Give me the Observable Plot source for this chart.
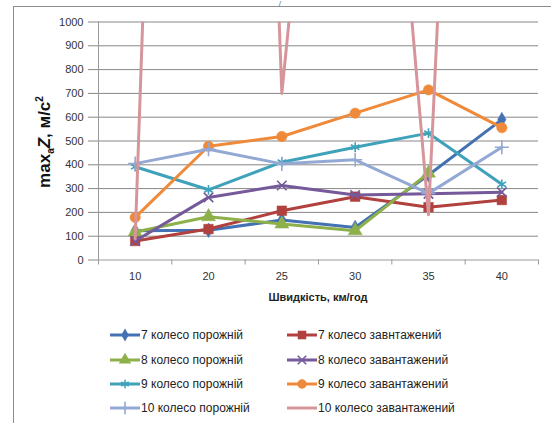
<!DOCTYPE html>
<html><head><meta charset="utf-8">
<script src="https://cdn.jsdelivr.net/npm/d3@7"></script>
<script src="https://cdn.jsdelivr.net/npm/@observablehq/plot@0.6"></script>
<style>
body{margin:0;background:#fff;font-family:"Liberation Sans",Arial,sans-serif;}
#wrap{position:relative;width:551px;height:423px;overflow:hidden;background:#fff}
#frame{position:absolute;left:13px;top:6px;width:600px;height:480px;border:1px solid #8c8c8c;box-sizing:border-box}
#chart{position:absolute;left:0;top:0}
#xtitle{position:absolute;top:291px;left:0;width:636px;text-align:center;font-weight:bold;font-size:11px;color:#222}
#ttl{position:absolute;left:279px;top:0px;font-size:7px;line-height:7px;color:#444}
.leg{position:absolute;display:flex;align-items:center;font-size:12px;color:#222;white-space:nowrap;height:16px}
.leg svg{display:block;margin-right:1px}
</style></head>
<body>
<div id="wrap">
  <div id="frame"></div>
  <div id="ttl">/</div>
  <div id="chart"></div>
  <div id="xtitle">Швидкість, км/год</div>
  <div id="legend"></div>
</div>
<script>
// ---- data ----
const categories = ["10", "20", "25", "30", "35", "40"];
const seriesNames = [
  "7 колесо порожній", "7 колесо завнтажений",
  "8 колесо порожній", "8 колесо завантажений",
  "9 колесо порожній", "9 колесо завантажений",
  "10 колесо порожній", "10 колесо завантажений"
];
const k7Empty   = [123, 125, 168, 137, 357, 590];
const k7Loaded  = [80, 130, 207, 266, 222, 252];
const k8Empty   = [118, 182, 151, 123, 365, null];
const k8Loaded  = [80, 263, 313, 273, 278, 285];
const k9Empty   = [392, 295, 411, 474, 533, 318];
const k9Loaded  = [179, 478, 519, 617, 715, 556];
const k10Empty  = [405, 465, 404, 421, 280, 474];
const k10Loaded = [88, 9000, 700, 3800, 190, 6800];
const yTicks = [0, 100, 200, 300, 400, 500, 600, 700, 800, 900, 1000];

// ---- styles ----
const seriesValues = [k7Empty, k7Loaded, k8Empty, k8Loaded, k9Empty, k9Loaded, k10Empty, k10Loaded];
const seriesColors = ["#4371B3", "#B0413E", "#8EB04B", "#75599A", "#3FA2BB", "#EF8A3A", "#93A9D4", "#D6959A"];
const seriesSymbols = ["diamond", "square", "triangle", "times", "asterisk", "circle", "plus", null];
const filledSymbols = new Set(["diamond", "square", "triangle", "circle"]);
const symbolR = {diamond: 4.4, square: 5.4, triangle: 5.2, times: 4.4, asterisk: 4.6, circle: 5.2, plus: 4.6};

const idx = d3.range(categories.length);
const boundaries = d3.range(categories.length + 1).map(i => i - 0.5);

const seriesMarks = [];
seriesValues.forEach((vals, s) => {
  const rows = vals.map((v, i) => ({i, v: v == null ? NaN : v}));
  seriesMarks.push(Plot.line(rows, {x: "i", y: "v", stroke: seriesColors[s], strokeWidth: 3,
    strokeLinejoin: "round", clip: true}));
  const sym = seriesSymbols[s];
  if (sym) {
    const pts = rows.filter(d => !isNaN(d.v));
    if (filledSymbols.has(sym)) {
      seriesMarks.push(Plot.dot(pts, {x: "i", y: "v", symbol: () => sym, r: symbolR[sym],
        fill: seriesColors[s], stroke: seriesColors[s], strokeWidth: 0.5}));
    } else {
      seriesMarks.push(Plot.dot(pts, {x: "i", y: "v", symbol: () => sym, r: symbolR[sym],
        stroke: seriesColors[s], strokeWidth: 1.6, fill: "none"}));
    }
  }
});

const chart = Plot.plot({
  width: 551,
  height: 310,
  marginLeft: 98,
  marginRight: 13,
  marginTop: 21.5,
  marginBottom: 50.5,
  style: {background: "transparent", color: "#333", fontFamily: "'Liberation Sans', Arial, sans-serif", fontSize: "11px"},
  x: {domain: [-0.5, categories.length - 0.5]},
  y: {domain: [0, 1000]},
  symbol: {type: "identity"},
  marks: [
    Plot.gridY(yTicks.filter(t => t > 0), {stroke: "#878787", strokeOpacity: 1, strokeWidth: 1}),
    Plot.ruleY([0], {stroke: "#9a9a9a"}),
    Plot.ruleX([-0.5], {stroke: "#9a9a9a"}),
    Plot.axisY(yTicks, {tickSize: 10, tickPadding: 5, stroke: "#878787", fontSize: 11, label: null,
      tickFormat: d => String(d)}),
    Plot.axisX(boundaries, {tickSize: 5, tickFormat: () => "", stroke: "#9a9a9a", label: null}),
    Plot.axisX(idx, {tickSize: 0, tickPadding: 12, tickFormat: i => categories[i], fontSize: 11, label: null}),
    ...seriesMarks
  ]
});
document.getElementById("chart").appendChild(chart);

// y-axis title with subscript / superscript
const svg = d3.select(chart);
const t = svg.append("text")
  .attr("transform", "translate(50,142) rotate(-90)")
  .attr("text-anchor", "middle")
  .attr("fill", "#111")
  .style("font-family", "'Liberation Sans', Arial, sans-serif")
  .style("font-weight", "bold")
  .style("font-size", "17px");
t.append("tspan").text("max");
t.append("tspan").attr("font-size", "10px").attr("dy", "4").text("a");
t.append("tspan").attr("dy", "-4").attr("font-style", "italic").text("Z");
t.append("tspan").text(", м/с");
t.append("tspan").attr("font-size", "10px").attr("dy", "-7").text("2");

// legend
const legend = document.getElementById("legend");
const rowsY = [335, 360, 384, 408];
const colX = [110, 287];
seriesNames.forEach((name, s) => {
  const row = Math.floor(s / 2), col = s % 2;
  const item = document.createElement("div");
  item.className = "leg";
  item.style.left = colX[col] + "px";
  item.style.top = (rowsY[row] - 8) + "px";
  const sw = d3.create("svg").attr("width", 30).attr("height", 16);
  sw.append("line").attr("x1", 0).attr("x2", 30).attr("y1", 8).attr("y2", 8)
    .attr("stroke", seriesColors[s]).attr("stroke-width", 3);
  const sym = seriesSymbols[s];
  if (sym) {
    const symMap = {diamond: d3.symbolDiamond, square: d3.symbolSquare, triangle: d3.symbolTriangle,
      circle: d3.symbolCircle, times: d3.symbolTimes, asterisk: d3.symbolAsterisk, plus: d3.symbolPlus};
    const size = Math.PI * symbolR[sym] * symbolR[sym] * 0.8;
    const p = sw.append("path").attr("transform", "translate(15,8)")
      .attr("d", d3.symbol(symMap[sym], size)());
    if (filledSymbols.has(sym)) p.attr("fill", seriesColors[s]);
    else p.attr("fill", "none").attr("stroke", seriesColors[s]).attr("stroke-width", 1.6);
  }
  item.appendChild(sw.node());
  const span = document.createElement("span");
  span.textContent = name;
  item.appendChild(span);
  legend.appendChild(item);
});
</script>
</body></html>
